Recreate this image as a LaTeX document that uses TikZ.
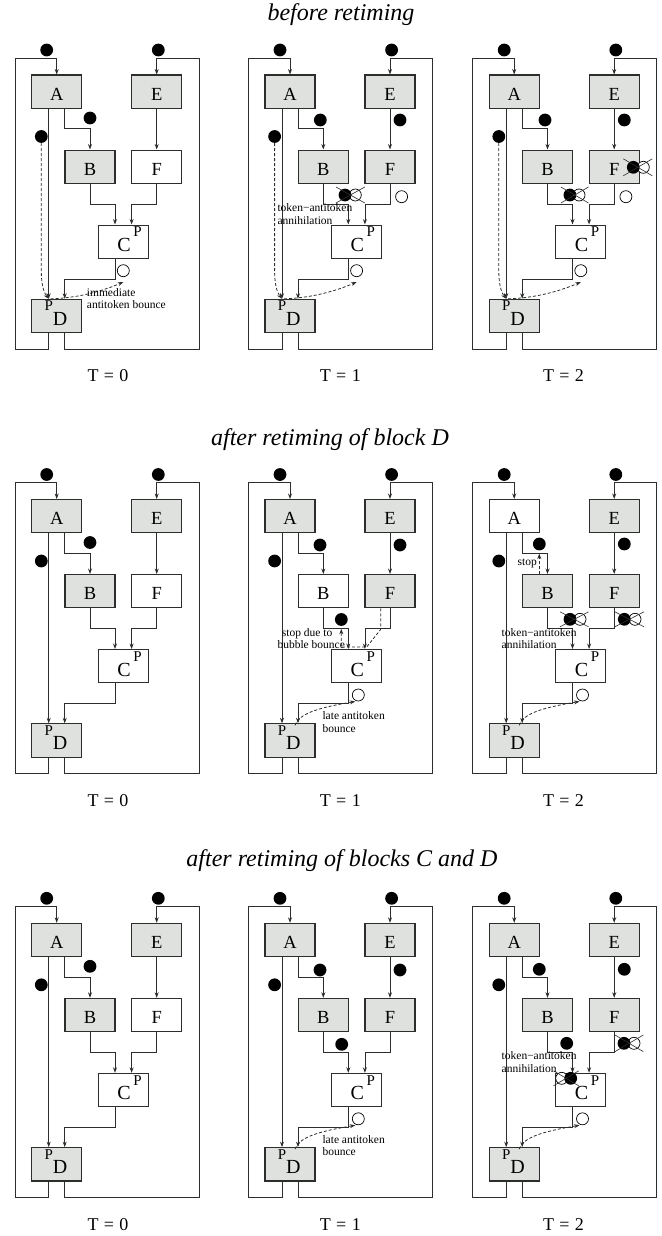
\documentclass[tikz,border=0pt]{standalone}
\usepackage{fontspec}
\setmainfont{Liberation Serif}
\usetikzlibrary{arrows.meta,calc}
\definecolor{boxgray}{RGB}{222,225,222}
\definecolor{ink}{RGB}{45,45,45}
\tikzset{
  blk/.style={draw=ink, line width=1.1pt, minimum width=50pt, minimum height=33.3pt, inner sep=0pt,
    font=\fontsize{18.5}{18.5}\selectfont, text height=16.8pt, text depth=0pt},
  gbox/.style={fill=boxgray},
  wbox/.style={fill=white},
  ltr/.style={inner sep=0pt, font=\fontsize{20}{20}\selectfont, text depth=0pt},
  ltrp/.style={inner sep=0pt, font=\fontsize{15}{15}\selectfont, text depth=0pt},
  conn/.style={draw=ink, line width=0.8pt, -{Stealth[length=5.5pt,width=4pt]}},
  tok/.style={circle, fill=black, inner sep=0pt, minimum size=12.8pt},
  atok/.style={circle, draw=black, fill=white, line width=0.7pt, inner sep=0pt, minimum size=12pt},
  dsh/.style={draw=ink, line width=0.8pt, dash pattern=on 3pt off 2pt, -{Stealth[length=5.5pt,width=4pt]}},
  xline/.style={draw=ink, line width=0.6pt},
  lbl/.style={font=\fontsize{11.5}{12.5}\selectfont, inner sep=0pt, align=left},
  ttl/.style={font=\fontsize{24}{24}\selectfont\itshape, anchor=base},
  tlab/.style={font=\fontsize{18}{18}\selectfont, anchor=base},
}
\newcommand{\panelbase}[6]{%
  \node[blk,#1] (A) at (56.7,91.7) {A};
  \node[blk,#2] (E) at (156.7,91.7) {E};
  \node[blk,#3] (B) at (90,166.7) {B};
  \node[blk,#4] (F) at (156.7,166.7) {F};
  \node[blk,#5] (C) at (123.3,241.7) {};
  \node[ltr] (Cl) at (124,245) {C};
  \node[ltrp] (Cp) at (137.5,232) {P};
  \node[blk,#6] (D) at (56.7,316) {};
  \node[ltrp] (Dp) at (48.8,305.8) {P};
  \node[ltr] (Dl) at (60,318.8) {D};
  \coordinate (LB) at (15,349); \coordinate (LT) at (15,58);
  \coordinate (RB) at (199,349); \coordinate (RT) at (199,58);
  \draw[conn] ([xshift=-8pt]D.south) |- (LB) -- (LT) -| (A.north);
  \draw[conn] ([xshift=8pt]D.south) |- (RB) -- (RT) -| (E.north);
  \draw[conn] ([xshift=-8pt]A.south) -- ([xshift=-8pt]D.north);
  \draw[conn] ([xshift=8pt]A.south) -- ++(0,20) -| (B.north);
  \draw[conn] (E.south) -- (F.north);
  \draw[conn] (B.south) -- ++(0,20) -| ([xshift=-8.3pt]C.north);
  \draw[conn] (F.south) -- ++(0,20) -| ([xshift=8.3pt]C.north);
  \draw[conn] ([xshift=-8.3pt]C.south) -- ++(0,20) -| ([xshift=8pt]D.north);
  \node[tok] (tA) at (46.7,50) {};
  \node[tok] (tE) at (158.3,50) {};
  \node[tok] (tAD) at (41.3,136.5) {};
}
\newcommand{\earlybounce}{%
  \node[atok] (aCD) at (123.3,270.7) {};
  \draw[dsh] (tAD.south) -- (41.3,272) .. controls (41.5,288) and (45,294) .. ([xshift=-8pt]D.north);
  \draw[dsh] ([xshift=-6pt]D.north) .. controls (80,298) and (105,290) .. ([yshift=-5pt]aCD.south);
}
\newcommand{\latebounce}{%
  \node[atok] (aCD) at (125,270.5) {};
  \draw[dsh] ([shift={(5pt,-2pt)}]D.north) .. controls (66,290) and (80,284) .. ([shift={(-3pt,-6.5pt)}]aCD.center);
}
\begin{document}
\begin{tikzpicture}[x=1pt,y=-1pt]
\useasboundingbox (0,0) rectangle (661,1236);
\node[ttl] (T1) at (341,21) {before retiming};
\node[ttl] (T2) at (330,445) {after retiming of block D};
\node[ttl] (T3) at (342,866) {after retiming of blocks C and D};

% ---------- Row 1 ----------
\begin{scope}[name prefix=p11-]
  \panelbase{gbox}{gbox}{gbox}{wbox}{wbox}{gbox}
  \node[tok] (tAB) at (90,118) {};
  \earlybounce
  \node[lbl,anchor=north west] (lab) at (86.7,288) {immediate\\antitoken bounce};
  \node[tlab] (T) at (108,381.7) {T\hspace{0.3em}=\hspace{0.3em}0};
\end{scope}

\begin{scope}[shift={(233.3,0)},name prefix=p12-]
  \panelbase{gbox}{gbox}{gbox}{gbox}{wbox}{gbox}
  \node[tok] (tAB) at (87,120) {};
  \node[tok] (tEF) at (166.7,120) {};
  \node[atok] (aBC) at (122,195) {};
  \node[tok] (tBC) at (111.7,195) {};
  \draw[xline] ([shift={(-9pt,8pt)}]tBC.center) -- ([shift={(9.5pt,-8pt)}]aBC.center);
  \draw[xline] ([shift={(-9pt,-8pt)}]tBC.center) -- ([shift={(9.5pt,8pt)}]aBC.center);
  \node[atok] (aFC) at (168.3,196.7) {};
  \node[lbl,anchor=north west] (lab) at (44,203.5) {token−antitoken\\annihilation};
  \earlybounce
  \node[tlab] (T) at (107,381.7) {T\hspace{0.3em}=\hspace{0.3em}1};
\end{scope}

\begin{scope}[shift={(457.5,0)},name prefix=p13-]
  \panelbase{gbox}{gbox}{gbox}{gbox}{wbox}{gbox}
  \node[tok] (tAB) at (87.5,120) {};
  \node[tok] (tEF) at (166.8,120) {};
  \node[atok] (aBC) at (121.5,195) {};
  \node[tok] (tBC) at (112.4,195) {};
  \draw[xline] ([shift={(-9pt,8pt)}]tBC.center) -- ([shift={(9.5pt,-8pt)}]aBC.center);
  \draw[xline] ([shift={(-9pt,-8pt)}]tBC.center) -- ([shift={(9.5pt,8pt)}]aBC.center);
  \node[atok] (aF) at (185.8,167.3) {};
  \node[tok] (tF) at (175.8,167.3) {};
  \draw[xline] ([shift={(-10pt,8.5pt)}]tF.center) -- ([shift={(9pt,-8.5pt)}]aF.center);
  \draw[xline] ([shift={(-10pt,-8.5pt)}]tF.center) -- ([shift={(9pt,8.5pt)}]aF.center);
  \node[atok] (aFC) at (168.4,196.7) {};
  \earlybounce
  \node[tlab] (T) at (106,381.7) {T\hspace{0.3em}=\hspace{0.3em}2};
\end{scope}

% ---------- Row 2 ----------
\begin{scope}[shift={(0,424.5)},name prefix=p21-]
  \panelbase{gbox}{gbox}{gbox}{wbox}{wbox}{gbox}
  \node[tok] (tAB) at (90,118) {};
  \node[tlab] (T) at (108,381.7) {T\hspace{0.3em}=\hspace{0.3em}0};
\end{scope}

\begin{scope}[shift={(233.3,424.5)},name prefix=p22-]
  \panelbase{gbox}{gbox}{wbox}{gbox}{wbox}{gbox}
  \node[tok] (tAB) at (86.7,120.5) {};
  \node[tok] (tEF) at (166.7,120.5) {};
  \node[tok] (tBC) at (108,195) {};
  \draw[dsh] ([xshift=-9.3pt]F.south) -- ++(0,21) -- (133.4,222.5) -| ([yshift=-2.7pt]tBC.south);
  \node[lbl,anchor=north west] (lab) at (44,203.5) {\hspace*{4.4pt}stop due to\\bubble bounce};
  \latebounce
  \node[lbl,anchor=north west] (lab2) at (89,287) {late antitoken\\bounce};
  \node[tlab] (T) at (107,381.7) {T\hspace{0.3em}=\hspace{0.3em}1};
\end{scope}

\begin{scope}[shift={(457.5,424.5)},name prefix=p23-]
  \panelbase{wbox}{gbox}{gbox}{gbox}{wbox}{gbox}
  \node[tok] (tAB) at (81.8,119.5) {};
  \draw[dsh] ([xshift=-8.2pt]B.north) -- ([yshift=-3pt]tAB.south);
  \node[lbl,anchor=east] (stp) at (79.5,138.5) {stop};
  \node[tok] (tEF) at (166.8,119.5) {};
  \node[atok] (aBC) at (122.5,194.8) {};
  \node[tok] (tBC) at (112.5,194.8) {};
  \draw[xline] ([shift={(-10pt,7.5pt)}]tBC.center) -- ([shift={(8.5pt,-7.5pt)}]aBC.center);
  \draw[xline] ([shift={(-10pt,-7.5pt)}]tBC.center) -- ([shift={(8.5pt,7.5pt)}]aBC.center);
  \node[atok] (aFC) at (177.5,194.8) {};
  \node[tok] (tFC) at (166.8,194.8) {};
  \draw[xline] ([shift={(-9.5pt,7.5pt)}]tFC.center) -- ([shift={(9pt,-7.5pt)}]aFC.center);
  \draw[xline] ([shift={(-9.5pt,-7.5pt)}]tFC.center) -- ([shift={(9pt,7.5pt)}]aFC.center);
  \node[lbl,anchor=north west] (lab) at (44,203.5) {token−antitoken\\annihilation};
  \latebounce
  \node[tlab] (T) at (106,381.7) {T\hspace{0.3em}=\hspace{0.3em}2};
\end{scope}

% ---------- Row 3 ----------
\begin{scope}[shift={(0,848.3)},name prefix=p31-]
  \panelbase{gbox}{gbox}{gbox}{wbox}{wbox}{gbox}
  \node[tok] (tAB) at (90,118) {};
  \node[tlab] (T) at (108,381.7) {T\hspace{0.3em}=\hspace{0.3em}0};
\end{scope}

\begin{scope}[shift={(233.3,848.3)},name prefix=p32-]
  \panelbase{gbox}{gbox}{gbox}{gbox}{wbox}{gbox}
  \node[tok] (tAB) at (86.7,121.7) {};
  \node[tok] (tEF) at (166.7,121.7) {};
  \node[tok] (tBC) at (108.4,196) {};
  \latebounce
  \node[lbl,anchor=north west] (lab2) at (89,287) {late antitoken\\bounce};
  \node[tlab] (T) at (107,381.7) {T\hspace{0.3em}=\hspace{0.3em}1};
\end{scope}

\begin{scope}[shift={(457.5,848.3)},name prefix=p33-]
  \panelbase{gbox}{gbox}{gbox}{gbox}{wbox}{gbox}
  \node[tok] (tAB) at (81.8,121) {};
  \node[tok] (tEF) at (166.8,121) {};
  \node[tok] (tBC) at (109.2,195) {};
  \node[atok] (aFC) at (176.5,195) {};
  \node[tok] (tFC) at (166.5,195) {};
  \draw[xline] ([shift={(-9pt,8.3pt)}]tFC.center) -- ([shift={(9.3pt,-8.3pt)}]aFC.center);
  \draw[xline] ([shift={(-9pt,-8.3pt)}]tFC.center) -- ([shift={(9.3pt,8.3pt)}]aFC.center);
  \node[atok] (aC) at (104.2,230) {};
  \node[tok] (tC) at (113.2,230) {};
  \draw[xline] ([shift={(-8.2pt,7.5pt)}]aC.center) -- ([shift={(8pt,-7.5pt)}]tC.center);
  \draw[xline] ([shift={(-8.2pt,-7.5pt)}]aC.center) -- ([shift={(8pt,7.5pt)}]tC.center);
  \node[lbl,anchor=north west] (lab) at (44,203.5) {token−antitoken\\annihilation};
  \latebounce
  \node[tlab] (T) at (106,381.7) {T\hspace{0.3em}=\hspace{0.3em}2};
\end{scope}
\end{tikzpicture}
\end{document}
